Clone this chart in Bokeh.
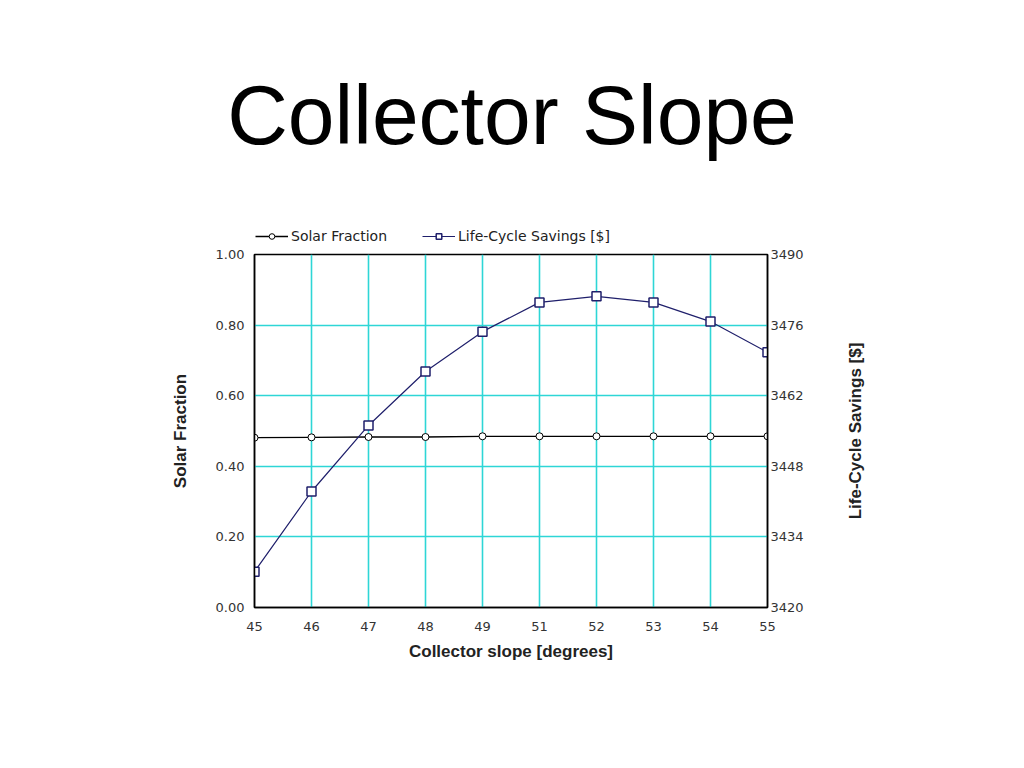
import math
from bokeh.plotting import figure
from bokeh.layouts import column, row
from bokeh.models import (Range1d, LinearAxis, FixedTicker, Legend, LegendItem,
                          Div, Label, NumeralTickFormatter)
from bokeh.embed import file_html
from bokeh.resources import INLINE

slopes = ["45", "46", "47", "48", "49", "51", "52", "53", "54", "55"]
solar_fraction = [0.481, 0.482, 0.483, 0.483, 0.485, 0.485, 0.485, 0.485, 0.485, 0.485]
life_cycle_savings = [3427.1, 3443.0, 3456.1, 3466.8, 3474.7, 3480.5, 3481.7, 3480.5, 3476.7, 3470.6]
left_ticks = [0.0, 0.2, 0.4, 0.6, 0.8, 1.0]
right_ticks = [3420, 3434, 3448, 3462, 3476, 3490]

FONT = "Liberation Sans"
TICK_FONT = "DejaVu Sans"
GRID = "#2ed6d6"
NAVY = "#1f1f6b"
W = 1008
MAIN_W = 829
MAIN_H = 508
NAN = float("nan")

xi = list(range(len(slopes)))

# ---------- title ----------
title_div = Div(
    text=('<div style="margin-left:11px;width:992px;text-align:center;'
          'font-family:\'Liberation Sans\';font-size:84px;line-height:1;'
          'padding-top:68px;color:black;white-space:nowrap;">Collector Slope</div>'),
    width=W, height=215)

# ---------- legend strip ----------
head = figure(width=W, height=19, output_backend="svg", toolbar_location=None,
              x_range=Range1d(0, 1), y_range=Range1d(0, 1),
              x_axis_type=None, y_axis_type=None,
              min_border_left=254, min_border_right=241, min_border_top=0,
              min_border_bottom=0, outline_line_color=None,
              background_fill_color="white", border_fill_color="white")
head.grid.visible = False
leg_sf_line = head.line([NAN], [NAN], line_color="black", line_width=1.3)
leg_sf_pt = head.scatter([NAN], [NAN], marker="circle", size=7, line_color="black",
                         fill_color="white", line_width=1)
leg_lcs_line = head.line([NAN], [NAN], line_color=NAVY, line_width=1.2)
leg_lcs_pt = head.scatter([NAN], [NAN], marker="square", size=9, line_color=NAVY,
                          fill_color="white", line_width=1.5)
legend = Legend(items=[LegendItem(label="Solar Fraction", renderers=[leg_sf_line, leg_sf_pt]),
                       LegendItem(label="Life-Cycle Savings [$]", renderers=[leg_lcs_line, leg_lcs_pt])],
                location=(1, 0), orientation="horizontal", margin=0, padding=0,
                spacing=35, glyph_width=33, glyph_height=14, label_standoff=3,
                label_text_font=TICK_FONT, label_text_font_size="14px",
                label_text_color="#222222", border_line_color=None,
                background_fill_alpha=0)
head.add_layout(legend, "center")

# ---------- main chart ----------
p = figure(width=MAIN_W, height=MAIN_H, output_backend="svg", toolbar_location=None,
           x_range=Range1d(0, len(slopes) - 1), y_range=Range1d(0, 1),
           min_border_left=254, min_border_right=62, min_border_top=10,
           min_border_bottom=145, background_fill_color="white",
           border_fill_color="white")
p.extra_y_ranges = {"lcs": Range1d(3420, 3490)}
p.outline_line_color = "black"
p.outline_line_width = 1.5

xa = p.xaxis[0]
xa.ticker = FixedTicker(ticks=xi)
xa.major_label_overrides = {i: s for i, s in enumerate(slopes)}
xa.axis_label = "Collector slope [degrees]"

ya = p.yaxis[0]
ya.ticker = FixedTicker(ticks=left_ticks)
ya.formatter = NumeralTickFormatter(format="0.00")
ya.axis_label = "Solar Fraction"

ra = LinearAxis(y_range_name="lcs", ticker=FixedTicker(ticks=right_ticks))
p.add_layout(ra, "right")

for ax in [xa, ya, ra]:
    ax.axis_line_color = "black"
    ax.axis_line_width = 1.5
    ax.major_tick_out = 0
    ax.major_tick_in = 0
    ax.minor_tick_out = 0
    ax.minor_tick_in = 0
    ax.major_label_text_font = TICK_FONT
    ax.major_label_text_font_size = "13px"
    ax.major_label_text_color = "#333333"
    ax.axis_label_text_font = FONT
    ax.axis_label_text_font_size = "17px"
    ax.axis_label_text_font_style = "bold"
    ax.axis_label_text_color = "#222222"

xa.major_label_standoff = 14
xa.axis_label_standoff = 8
ya.major_label_standoff = 10
ya.axis_label_standoff = 23
ra.major_label_standoff = 3

p.xgrid.ticker = FixedTicker(ticks=xi)
p.ygrid.ticker = FixedTicker(ticks=left_ticks)
for g in [p.xgrid[0], p.ygrid[0]]:
    g.grid_line_color = GRID
    g.grid_line_width = 1.6

p.line(xi, solar_fraction, line_color="black", line_width=1.3)
p.scatter(xi, solar_fraction, marker="circle", size=7,
          line_color="black", fill_color="white", line_width=1)
p.line(xi, life_cycle_savings, y_range_name="lcs", line_color=NAVY, line_width=1.2)
p.scatter(xi, life_cycle_savings, y_range_name="lcs", marker="square",
          size=9, line_color=NAVY, fill_color="white", line_width=1.5)

# ---------- right-hand axis title (reads bottom to top) ----------
side = figure(width=W - MAIN_W, height=MAIN_H, output_backend="svg",
              toolbar_location=None, x_range=Range1d(0, 1), y_range=Range1d(0, 1),
              x_axis_type=None, y_axis_type=None,
              min_border_left=0, min_border_right=0, min_border_top=10,
              min_border_bottom=145, outline_line_color=None,
              background_fill_color="white", border_fill_color="white")
side.grid.visible = False
side.add_layout(Label(x=26, y=0.5, x_units="screen", y_units="data",
                      text="Life-Cycle Savings [$]", angle=math.pi / 2,
                      text_align="center", text_baseline="middle",
                      text_font=FONT, text_font_size="17px", text_font_style="bold",
                      text_color="#222222"))

layout = column(title_div, head, row(p, side, spacing=0), spacing=0)
open("out.html", "w").write(file_html(layout, INLINE))
